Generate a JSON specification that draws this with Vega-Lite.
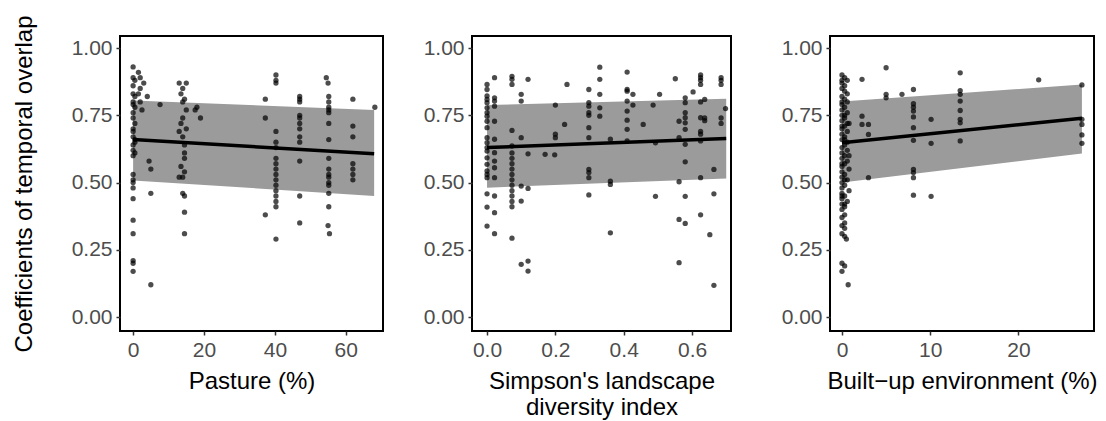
{
  "$schema": "https://vega.github.io/schema/vega-lite/v6.json",
  "padding": {"left": 11, "top": 13, "right": 0, "bottom": 0},
  "spacing": 36,
  "config": {
    "font": "Liberation Sans",
    "view": {"stroke": "black", "strokeWidth": 2},
    "axis": {"domain": false, "grid": false, "tickColor": "#333333", "tickSize": 4, "tickWidth": 1.5, "labelColor": "#4d4d4d", "labelFontSize": 21, "titleFontSize": 24, "titleFontWeight": "normal", "titleColor": "black", "labelPadding": 4}
  },
  "datasets": {
    "f1": [{"x": 0, "fit": 0.66, "lo": 0.508, "hi": 0.805}, {"x": 68, "fit": 0.607, "lo": 0.45, "hi": 0.77}],
    "f2": [{"x": 0, "fit": 0.63, "lo": 0.481, "hi": 0.788}, {"x": 0.7, "fit": 0.664, "lo": 0.515, "hi": 0.812}],
    "f3": [{"x": 0, "fit": 0.648, "lo": 0.5, "hi": 0.801}, {"x": 27.2, "fit": 0.739, "lo": 0.608, "hi": 0.865}],
    "p1": [
      {"x":0,"y":0.93},{"x":0,"y":0.89},{"x":0,"y":0.86},{"x":0,"y":0.83},{"x":0,"y":0.80},{"x":0,"y":0.79},{"x":0,"y":0.76},{"x":0,"y":0.74},{"x":0,"y":0.70},{"x":0,"y":0.69},{"x":0,"y":0.67},{"x":0,"y":0.64},{"x":0,"y":0.62},{"x":0,"y":0.60},{"x":0,"y":0.53},{"x":0,"y":0.51},{"x":0,"y":0.50},{"x":0,"y":0.48},{"x":0,"y":0.44},{"x":0,"y":0.36},{"x":0,"y":0.31},{"x":0,"y":0.21},{"x":0,"y":0.20},{"x":0,"y":0.17},
      {"x":0.5,"y":0.88},{"x":0.5,"y":0.82},{"x":0.5,"y":0.78},{"x":0.5,"y":0.72},{"x":0.5,"y":0.65},{"x":0.5,"y":0.61},{"x":0.5,"y":0.66},
      {"x":1.5,"y":0.91},{"x":2,"y":0.89},{"x":3,"y":0.87},{"x":2,"y":0.85},{"x":1.5,"y":0.83},{"x":4,"y":0.82},{"x":2,"y":0.80},{"x":2.5,"y":0.77},{"x":4.5,"y":0.58},{"x":5,"y":0.55},{"x":5,"y":0.46},{"x":5,"y":0.12},{"x":7.6,"y":0.79},
      {"x":13,"y":0.87},{"x":15,"y":0.87},{"x":14,"y":0.85},{"x":13.5,"y":0.83},{"x":14.5,"y":0.81},{"x":14,"y":0.80},{"x":15,"y":0.77},{"x":14,"y":0.74},{"x":13.5,"y":0.72},{"x":15,"y":0.70},{"x":13,"y":0.69},{"x":14,"y":0.67},{"x":14.5,"y":0.64},{"x":14.5,"y":0.61},{"x":14.5,"y":0.59},{"x":13.5,"y":0.56},{"x":14.5,"y":0.54},{"x":13,"y":0.52},{"x":14,"y":0.52},{"x":14,"y":0.46},{"x":14.5,"y":0.45},{"x":14.5,"y":0.39},{"x":14.5,"y":0.31},{"x":18,"y":0.78},{"x":17.5,"y":0.77},{"x":19,"y":0.74},
      {"x":37.3,"y":0.81},{"x":37.3,"y":0.74},{"x":37.3,"y":0.38},
      {"x":40.3,"y":0.90},{"x":40.3,"y":0.88},{"x":40.3,"y":0.87},{"x":40.3,"y":0.69},{"x":40.3,"y":0.65},{"x":40.3,"y":0.63},{"x":40.3,"y":0.59},{"x":40.3,"y":0.57},{"x":40.3,"y":0.55},{"x":40.3,"y":0.53},{"x":40.3,"y":0.51},{"x":40.3,"y":0.49},{"x":40.3,"y":0.47},{"x":40.3,"y":0.45},{"x":40.3,"y":0.43},{"x":40.3,"y":0.41},{"x":40.3,"y":0.29},
      {"x":47,"y":0.82},{"x":47,"y":0.81},{"x":47,"y":0.80},{"x":47,"y":0.75},{"x":47,"y":0.74},{"x":47,"y":0.72},{"x":47,"y":0.70},{"x":47,"y":0.67},{"x":47,"y":0.65},{"x":47,"y":0.58},{"x":47,"y":0.45},{"x":47,"y":0.35},
      {"x":54.5,"y":0.89},{"x":55,"y":0.87},{"x":55.2,"y":0.82},{"x":55.2,"y":0.80},{"x":55.2,"y":0.78},{"x":55.2,"y":0.77},{"x":55.2,"y":0.76},{"x":55.2,"y":0.72},{"x":55.2,"y":0.66},{"x":55.2,"y":0.59},{"x":55.2,"y":0.55},{"x":55.2,"y":0.53},{"x":55.2,"y":0.52},{"x":55.2,"y":0.50},{"x":55.2,"y":0.49},{"x":55.2,"y":0.46},{"x":55.2,"y":0.41},{"x":55,"y":0.34},{"x":55.4,"y":0.31},
      {"x":62,"y":0.81},{"x":62,"y":0.71},{"x":62,"y":0.67},{"x":62,"y":0.57},{"x":62,"y":0.55},{"x":62,"y":0.53},{"x":62,"y":0.51},
      {"x":68.2,"y":0.78}
    ],
    "p2": [
      {"x":0,"y":0.865},{"x":0,"y":0.846},{"x":0,"y":0.822},{"x":0,"y":0.809},{"x":0,"y":0.797},{"x":0,"y":0.778},{"x":0,"y":0.76},{"x":0,"y":0.747},{"x":0,"y":0.728},{"x":0,"y":0.704},{"x":0,"y":0.667},{"x":0,"y":0.648},{"x":0,"y":0.63},{"x":0,"y":0.617},{"x":0,"y":0.592},{"x":0,"y":0.568},{"x":0,"y":0.543},{"x":0,"y":0.53},{"x":0,"y":0.518},{"x":0,"y":0.458},{"x":0,"y":0.409},{"x":0,"y":0.338},
      {"x":0.022,"y":0.89},{"x":0.022,"y":0.815},{"x":0.022,"y":0.803},{"x":0.022,"y":0.784},{"x":0.022,"y":0.728},{"x":0.022,"y":0.661},{"x":0.022,"y":0.611},{"x":0.022,"y":0.58},{"x":0.022,"y":0.555},{"x":0.022,"y":0.518},{"x":0.022,"y":0.45},{"x":0.022,"y":0.388},{"x":0.022,"y":0.31},
      {"x":0.073,"y":0.895},{"x":0.073,"y":0.884},{"x":0.073,"y":0.865},{"x":0.073,"y":0.694},{"x":0.073,"y":0.636},{"x":0.073,"y":0.61},{"x":0.073,"y":0.59},{"x":0.073,"y":0.57},{"x":0.073,"y":0.55},{"x":0.073,"y":0.53},{"x":0.073,"y":0.51},{"x":0.073,"y":0.49},{"x":0.073,"y":0.47},{"x":0.073,"y":0.45},{"x":0.073,"y":0.43},{"x":0.073,"y":0.41},{"x":0.073,"y":0.293},
      {"x":0.1,"y":0.828},{"x":0.1,"y":0.803},{"x":0.1,"y":0.667},{"x":0.1,"y":0.487},{"x":0.1,"y":0.431},{"x":0.1,"y":0.196},
      {"x":0.12,"y":0.884},{"x":0.12,"y":0.607},{"x":0.12,"y":0.478},{"x":0.12,"y":0.208},{"x":0.12,"y":0.171},
      {"x":0.17,"y":0.605},{"x":0.198,"y":0.603},{"x":0.2,"y":0.788},{"x":0.2,"y":0.68},{"x":0.2,"y":0.667},{"x":0.227,"y":0.716},{"x":0.234,"y":0.865},
      {"x":0.298,"y":0.846},{"x":0.298,"y":0.797},{"x":0.298,"y":0.784},{"x":0.298,"y":0.76},{"x":0.298,"y":0.75},{"x":0.298,"y":0.704},{"x":0.298,"y":0.667},{"x":0.298,"y":0.549},{"x":0.298,"y":0.537},{"x":0.298,"y":0.518},{"x":0.298,"y":0.454},
      {"x":0.33,"y":0.929},{"x":0.33,"y":0.884},{"x":0.33,"y":0.828},{"x":0.33,"y":0.778},{"x":0.33,"y":0.747},
      {"x":0.361,"y":0.661},{"x":0.361,"y":0.505},{"x":0.361,"y":0.493},{"x":0.361,"y":0.313},
      {"x":0.41,"y":0.911},{"x":0.41,"y":0.846},{"x":0.41,"y":0.84},{"x":0.41,"y":0.803},{"x":0.41,"y":0.766},{"x":0.41,"y":0.732},{"x":0.41,"y":0.698},{"x":0.41,"y":0.655},
      {"x":0.427,"y":0.828},{"x":0.427,"y":0.788},
      {"x":0.457,"y":0.716},{"x":0.486,"y":0.788},{"x":0.493,"y":0.648},{"x":0.493,"y":0.449},{"x":0.505,"y":0.828},{"x":0.551,"y":0.886},
      {"x":0.562,"y":0.728},{"x":0.562,"y":0.503},{"x":0.562,"y":0.363},{"x":0.562,"y":0.202},{"x":0.562,"y":0.667},
      {"x":0.58,"y":0.815},{"x":0.58,"y":0.797},{"x":0.58,"y":0.76},{"x":0.58,"y":0.741},{"x":0.58,"y":0.722},{"x":0.58,"y":0.698},{"x":0.58,"y":0.642},{"x":0.58,"y":0.577},{"x":0.58,"y":0.449},{"x":0.58,"y":0.348},
      {"x":0.603,"y":0.837},
      {"x":0.625,"y":0.9},{"x":0.625,"y":0.89},{"x":0.625,"y":0.88},{"x":0.625,"y":0.865},{"x":0.625,"y":0.8},{"x":0.625,"y":0.741},{"x":0.625,"y":0.69},{"x":0.625,"y":0.68},{"x":0.625,"y":0.655},{"x":0.625,"y":0.518},{"x":0.625,"y":0.38},
      {"x":0.637,"y":0.809},{"x":0.637,"y":0.74},{"x":0.637,"y":0.73},
      {"x":0.652,"y":0.306},{"x":0.664,"y":0.549},{"x":0.664,"y":0.458},{"x":0.664,"y":0.118},
      {"x":0.685,"y":0.89},{"x":0.685,"y":0.88},{"x":0.685,"y":0.865},{"x":0.685,"y":0.74},{"x":0.685,"y":0.72},
      {"x":0.698,"y":0.775}
    ],
    "p3": [
      {"x":0,"y":0.90},{"x":0.3,"y":0.89},{"x":0.6,"y":0.88},{"x":0,"y":0.87},{"x":0.3,"y":0.86},{"x":0,"y":0.85},{"x":0.6,"y":0.83},{"x":0,"y":0.82},{"x":0.3,"y":0.81},{"x":0.6,"y":0.80},{"x":0,"y":0.79},{"x":0.3,"y":0.78},{"x":0,"y":0.77},{"x":0.6,"y":0.76},{"x":0,"y":0.75},{"x":0.3,"y":0.74},{"x":0,"y":0.73},{"x":0.6,"y":0.72},{"x":0.3,"y":0.71},{"x":0,"y":0.70},{"x":0.6,"y":0.69},{"x":0,"y":0.68},{"x":0.3,"y":0.67},{"x":0,"y":0.66},{"x":0.6,"y":0.65},{"x":0.3,"y":0.64},{"x":0,"y":0.63},{"x":0.6,"y":0.62},{"x":0,"y":0.61},{"x":0.3,"y":0.60},{"x":0,"y":0.59},{"x":0.6,"y":0.58},{"x":0.3,"y":0.57},{"x":0,"y":0.56},{"x":0.8,"y":0.55},{"x":0,"y":0.54},{"x":0.3,"y":0.53},{"x":0,"y":0.52},{"x":0.6,"y":0.51},{"x":0,"y":0.50},{"x":0.3,"y":0.49},{"x":0,"y":0.48},{"x":0.8,"y":0.47},{"x":0,"y":0.46},{"x":0.3,"y":0.45},{"x":0,"y":0.44},{"x":0.6,"y":0.43},{"x":0,"y":0.42},{"x":0.3,"y":0.41},{"x":0,"y":0.40},{"x":0.3,"y":0.38},{"x":0,"y":0.37},{"x":0.3,"y":0.35},{"x":0,"y":0.34},{"x":0.3,"y":0.33},{"x":0,"y":0.31},{"x":0.3,"y":0.30},{"x":0.5,"y":0.29},{"x":0,"y":0.20},{"x":0.3,"y":0.19},{"x":0,"y":0.17},{"x":0.7,"y":0.12},
      {"x":0,"y":0.88},{"x":0.3,"y":0.84},{"x":0,"y":0.80},{"x":0.3,"y":0.75},{"x":0,"y":0.71},{"x":0.8,"y":0.72},{"x":0.3,"y":0.66},{"x":0.8,"y":0.60},{"x":0,"y":0.57},{"x":0.3,"y":0.51},{"x":0,"y":0.45},{"x":0.3,"y":0.42},
      {"x":2.27,"y":0.884},{"x":2.27,"y":0.747},{"x":2.27,"y":0.716},
      {"x":3,"y":0.716},{"x":3,"y":0.679},{"x":3,"y":0.518},
      {"x":5,"y":0.927},{"x":5,"y":0.828},{"x":5,"y":0.815},
      {"x":6.8,"y":0.828},
      {"x":8.1,"y":0.846},{"x":8.1,"y":0.793},{"x":8.1,"y":0.78},{"x":8.1,"y":0.766},{"x":8.1,"y":0.744},{"x":8.1,"y":0.704},{"x":8.1,"y":0.657},{"x":8.1,"y":0.549},{"x":8.1,"y":0.537},{"x":8.1,"y":0.518},{"x":8.1,"y":0.453},
      {"x":10.1,"y":0.735},{"x":10.1,"y":0.646},{"x":10.1,"y":0.449},
      {"x":13.4,"y":0.908},{"x":13.4,"y":0.842},{"x":13.4,"y":0.828},{"x":13.4,"y":0.803},{"x":13.4,"y":0.768},{"x":13.4,"y":0.735},{"x":13.4,"y":0.722},{"x":13.4,"y":0.655},
      {"x":22.3,"y":0.882},
      {"x":27.2,"y":0.863},{"x":27.2,"y":0.735},{"x":27.2,"y":0.716},{"x":27.2,"y":0.677},{"x":27.2,"y":0.646}
    ]
  },
  "hconcat": [
    {
      "width": 263, "height": 295,
      "encoding": {
        "x": {"field": "x", "type": "quantitative", "scale": {"domain": [-3.7, 70.5], "nice": false, "zero": false}, "axis": {"values": [0, 20, 40, 60], "title": "Pasture (%)", "titlePadding": 9}}
      },
      "layer": [
        {"data": {"name": "f1"}, "mark": {"type": "area", "color": "#9b9b9b", "opacity": 1},
         "encoding": {"y": {"field": "lo", "type": "quantitative", "scale": {"domain": [-0.052, 1.045], "nice": false, "zero": false}, "axis": {"values": [0, 0.25, 0.5, 0.75, 1], "format": ".2f", "title": "Coefficients of temporal overlap", "titlePadding": 35}}, "y2": {"field": "hi"}}},
        {"data": {"name": "p1"}, "mark": {"type": "circle", "size": 28, "color": "black", "opacity": 0.7},
         "encoding": {"y": {"field": "y", "type": "quantitative", "title": "Coefficients of temporal overlap"}}},
        {"data": {"name": "f1"}, "mark": {"type": "line", "color": "black", "strokeWidth": 3.5},
         "encoding": {"y": {"field": "fit", "type": "quantitative", "title": "Coefficients of temporal overlap"}}}
      ]
    },
    {
      "width": 259, "height": 295,
      "encoding": {
        "x": {"field": "x", "type": "quantitative", "scale": {"domain": [-0.044, 0.714], "nice": false, "zero": false}, "axis": {"values": [0, 0.2, 0.4, 0.6], "format": ".1f", "title": ["Simpson's landscape", "diversity index"], "titlePadding": 9, "titleLineHeight": 26}}
      },
      "layer": [
        {"data": {"name": "f2"}, "mark": {"type": "area", "color": "#9b9b9b", "opacity": 1},
         "encoding": {"y": {"field": "lo", "type": "quantitative", "scale": {"domain": [-0.052, 1.045], "nice": false, "zero": false}, "axis": {"values": [0, 0.25, 0.5, 0.75, 1], "format": ".2f", "title": null, "minExtent": 51, "maxExtent": 51}}, "y2": {"field": "hi"}}},
        {"data": {"name": "p2"}, "mark": {"type": "circle", "size": 28, "color": "black", "opacity": 0.7},
         "encoding": {"y": {"field": "y", "type": "quantitative", "title": null}}},
        {"data": {"name": "f2"}, "mark": {"type": "line", "color": "black", "strokeWidth": 3.5},
         "encoding": {"y": {"field": "fit", "type": "quantitative", "title": null}}}
      ]
    },
    {
      "width": 264, "height": 295,
      "encoding": {
        "x": {"field": "x", "type": "quantitative", "scale": {"domain": [-1.36, 28.57], "nice": false, "zero": false}, "axis": {"values": [0, 10, 20], "title": "Built\u2212up environment (%)", "titlePadding": 9}}
      },
      "layer": [
        {"data": {"name": "f3"}, "mark": {"type": "area", "color": "#9b9b9b", "opacity": 1},
         "encoding": {"y": {"field": "lo", "type": "quantitative", "scale": {"domain": [-0.052, 1.045], "nice": false, "zero": false}, "axis": {"values": [0, 0.25, 0.5, 0.75, 1], "format": ".2f", "title": null, "minExtent": 58, "maxExtent": 58}}, "y2": {"field": "hi"}}},
        {"data": {"name": "p3"}, "mark": {"type": "circle", "size": 28, "color": "black", "opacity": 0.7},
         "encoding": {"y": {"field": "y", "type": "quantitative", "title": null}}},
        {"data": {"name": "f3"}, "mark": {"type": "line", "color": "black", "strokeWidth": 3.5},
         "encoding": {"y": {"field": "fit", "type": "quantitative", "title": null}}}
      ]
    }
  ]
}
